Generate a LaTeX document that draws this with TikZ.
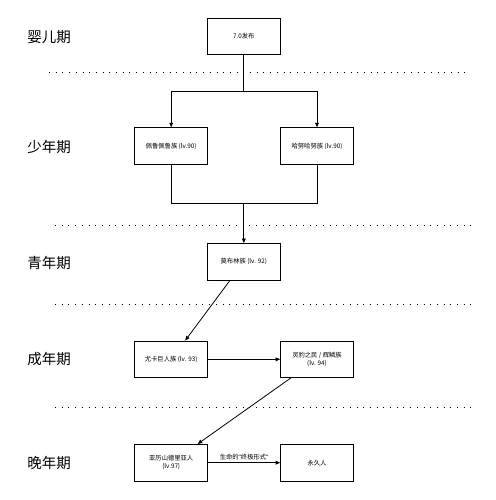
\documentclass[tikz,border=0pt]{standalone}
\usepackage{fontspec}
\setmainfont{Noto Sans CJK SC}
\newfontfamily\latf{Liberation Sans}
\usetikzlibrary{arrows.meta}
\begin{document}
\begin{tikzpicture}[x=1pt,y=-1pt,
  box/.style={draw=black,line width=0.8pt,minimum width=73pt,minimum height=36.7pt,inner sep=1pt,align=center,font=\fontsize{6.3}{8}\selectfont},
  stage/.style={font=\fontsize{14.5}{16}\selectfont,inner sep=0pt},
  sep/.style={line width=1pt,dash pattern=on 1pt off 5.7pt,line cap=butt},
  conn/.style={line width=0.8pt},
  arr/.style={line width=0.8pt,-{Triangle[length=4.5pt,width=3.8pt]}},
  lbl/.style={font=\fontsize{6.3}{8}\selectfont,inner sep=1pt}]
\useasboundingbox (0,0) rectangle (495,500);
\fill[white] (0,0) rectangle (495,500);
% stage labels
\node[stage] (s1) at (49,37.3) {婴儿期};
\node[stage] (s2) at (49,146.7) {少年期};
\node[stage] (s3) at (49,262.7) {青年期};
\node[stage] (s4) at (49,359.3) {成年期};
\node[stage] (s5) at (49,463.3) {晚年期};
% separators
\coordinate (d1a) at (49,72.7); \coordinate (d1b) at (470,72.7);
\coordinate (d2a) at (55,225); \coordinate (d2b) at (476,225);
\coordinate (d3a) at (55,304.3); \coordinate (d3b) at (476,304.3);
\coordinate (d4a) at (55,407.7); \coordinate (d4b) at (476,407.7);
\draw[sep] (d1a) -- (d1b);
\draw[sep] (d2a) -- (d2b);
\draw[sep] (d3a) -- (d3b);
\draw[sep] (d4a) -- (d4b);
% boxes
\node[box] (t) at (243.85,36.3) {7.0发布};
\node[box] (p) at (171.2,146) {佩鲁佩鲁族 (lv.90)};
\node[box] (h) at (317,146) {哈努哈努族 (lv.90)};
\node[box] (m) at (243.85,261.8) {莫布林族 (lv. 92)};
\node[box] (y) at (171.2,359.3) {尤卡巨人族 (lv. 93)};
\node[box] (l) at (317,359.3) {灵豹之民 / 辉鳞族\\(lv. 94)};
\node[box] (a) at (171.2,462.7) {亚历山德里亚人\\(lv.97)};
\node[box] (e) at (317,462.7) {永久人};
% connectors
\coordinate (br) at (243.85,91);
\coordinate (mg) at (243.85,203.3);
\draw[conn] (t.south) -- (br);
\draw[arr] (br) -| (p.north);
\draw[arr] (br) -| (h.north);
\draw[conn] (p.south) |- (mg);
\draw[conn] (h.south) |- (mg);
\draw[arr] (mg) -- (m.north);
\draw[arr] ([xshift=-14pt]m.south) -- ([xshift=14pt]y.north);
\draw[arr] (y.east) -- (l.west);
\draw[arr] ([xshift=-26.3pt]l.south) -- ([xshift=26.5pt]a.north);
\draw[arr] (a.east) -- node[lbl,above=1.5pt] {生命的{\latf "}终极形式{\latf "}} (e.west);
\end{tikzpicture}
\end{document}
